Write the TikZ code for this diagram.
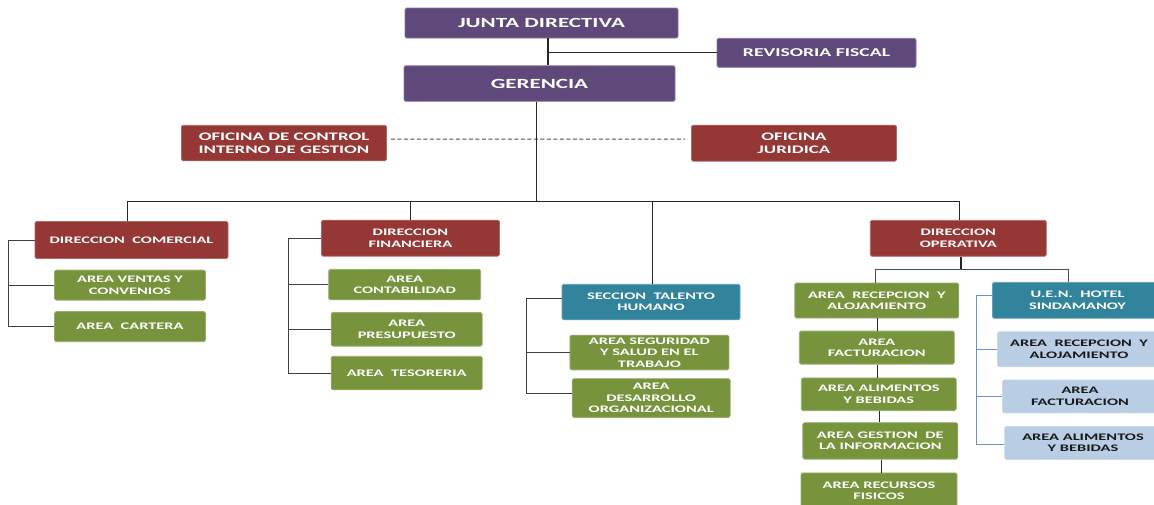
\documentclass[tikz,border=0pt]{standalone}
\usepackage{fontspec}
\setmainfont{Carlito}[FakeStretch=1.64]
\usepackage{tikz}
\usetikzlibrary{positioning, calc}

\definecolor{boardpurple}{HTML}{5F497A}
\definecolor{officered}{HTML}{953735}
\definecolor{areagreen}{HTML}{77933C}
\definecolor{sectionteal}{HTML}{31849B}
\definecolor{hotelblue}{HTML}{B9CDE5}
\definecolor{hotelline}{HTML}{6A93CF}

\begin{document}
\begin{tikzpicture}[
        x=1pt, y=-1pt,
        box/.style={rectangle, rounded corners=1.5pt, align=center, inner sep=1pt, text=white, line width=0.8pt, font=\bfseries\fontsize{10}{11.5}\selectfont},
        board/.style={box, fill=boardpurple, draw=boardpurple!75!white, font=\bfseries\fontsize{14}{16}\selectfont},
        office/.style={box, fill=officered, draw=officered!75!white},
        area/.style={box, fill=areagreen, draw=areagreen!75!white},
        section/.style={box, fill=sectionteal, draw=sectionteal!75!white},
        hotelarea/.style={box, fill=hotelblue, draw=hotelblue!75!white, text=black!90},
        link/.style={draw=black!85, line width=1.2pt},
        bracket/.style={draw=black!75, line width=1pt},
        hotellink/.style={draw=hotelline, line width=1pt}
      ]
      \useasboundingbox (0,0) rectangle (1154,504);
      \clip (0,0) rectangle (1154,504);

      % top of the chart
      \node[board, minimum width=273pt, minimum height=30pt] (junta) at (541.5,23) {JUNTA DIRECTIVA};
      \node[board, minimum width=271pt, minimum height=35.5pt, below=27pt of junta, xshift=-2pt] (gerencia) {GERENCIA};
      \node[board, minimum width=199pt, minimum height=29pt, font=\bfseries\fontsize{12}{14}\selectfont] (revisoria) at (816.5,52.8) {REVISORIA FISCAL};

      % staff offices
      \node[office, minimum width=205pt, minimum height=35.5pt, font=\bfseries\fontsize{11.5}{13}\selectfont] (controlint) at (284,143) {OFICINA DE CONTROL\\INTERNO DE GESTION};
      \node[office, minimum width=205pt, minimum height=36pt, font=\bfseries\fontsize{11.5}{13}\selectfont] (juridica) at (794,143.2) {OFICINA\\JURIDICA};

      % direcciones
      \node[office, minimum width=193pt, minimum height=37pt] (dcomercial) at (131.5,240) {DIRECCION\ \ COMERCIAL};
      \node[office, minimum width=178pt, minimum height=36pt] (dfinanciera) at (410.4,238.2) {DIRECCION\\FINANCIERA};
      \node[office, minimum width=176pt, minimum height=36pt] (doperativa) at (958.3,238.3) {DIRECCION\\OPERATIVA};
      \node[section, minimum width=178pt, minimum height=35.5pt] (talento) at (651,302) {SECCION\ \ TALENTO\\HUMANO};

      % comercial areas
      \node[area, minimum width=151pt, minimum height=30pt, below=10.8pt of dcomercial, xshift=-1.5pt] (ventas) {AREA VENTAS Y\\CONVENIOS};
      \node[area, minimum width=151pt, minimum height=30pt, below=10.7pt of ventas] (cartera) {AREA\ \ CARTERA};

      % financiera areas
      \node[area, minimum width=152pt, minimum height=30.5pt, below=12.3pt of dfinanciera, xshift=-5.7pt] (contab) {AREA\\CONTABILIDAD};
      \node[area, minimum width=151pt, minimum height=33.5pt, below=12pt of contab, xshift=2pt] (presup) {AREA\\PRESUPUESTO};
      \node[area, minimum width=151pt, minimum height=33.5pt, below=9.4pt of presup] (tesoreria) {AREA\ \ TESORERIA};

      % talento humano areas
      \node[area, minimum width=159pt, minimum height=34.7pt, below=14.6pt of talento, xshift=-1.6pt] (seguridad) {AREA SEGURIDAD\\Y SALUD EN EL\\TRABAJO};
      \node[area, minimum width=158pt, minimum height=38.7pt, below=8pt of seguridad, xshift=1.8pt] (desarrollo) {AREA\\DESARROLLO\\ORGANIZACIONAL};

      % operativa areas
      \node[area, minimum width=164pt, minimum height=35pt] (recepcion) at (876.8,300.5) {AREA\ \ RECEPCION\ \ Y\\ALOJAMIENTO};
      \node[area, minimum width=155pt, minimum height=33pt, below=12.3pt of recepcion] (facturacion) {AREA\\FACTURACION};
      \node[area, minimum width=155pt, minimum height=32.7pt, below=13pt of facturacion, xshift=2pt] (alimentos) {AREA ALIMENTOS\\Y BEBIDAS};
      \node[area, minimum width=155pt, minimum height=36.4pt, below=11.3pt of alimentos, xshift=1.5pt] (gestion) {AREA GESTION\ \ DE\\LA INFORMACION};
      \node[area, minimum width=156pt, minimum height=36pt, below=13pt of gestion, xshift=-1.3pt] (recursos) {AREA RECURSOS\\FISICOS};

      % hotel unit
      \node[section, minimum width=170pt, minimum height=36pt] (hotel) at (1077.5,300.3) {U.E.N.\ \ HOTEL\\SINDAMANOY};
      \node[hotelarea, minimum width=163pt, minimum height=35pt, below=12.7pt of hotel, xshift=1.5pt] (hrecepcion) {AREA\ \ RECEPCION\ \ Y\\ALOJAMIENTO};
      \node[hotelarea, minimum width=155pt, minimum height=33pt, below=12.3pt of hrecepcion, xshift=1pt] (hfacturacion) {AREA\\FACTURACION};
      \node[hotelarea, minimum width=156.6pt, minimum height=33pt, below=12.7pt of hfacturacion, xshift=3pt] (halimentos) {AREA ALIMENTOS\\Y BEBIDAS};

      % edges
      \draw[link, line width=2pt] ([xshift=6pt]junta.south) -- ([xshift=6pt]junta.south |- gerencia.north);
      \draw[link] ([xshift=6pt]junta.south |- revisoria.west) -- (revisoria.west);
      \draw[draw=black!70, line width=1pt, dash pattern=on 4pt off 2.5pt, shorten <=4pt, shorten >=6pt] ([yshift=4pt]controlint.east) -- ([yshift=4pt]juridica.west);

      \coordinate (bus) at (536.6,201.7);
      \draw[link] ([xshift=-3pt]gerencia.south) -- ([xshift=-3pt]gerencia.south |- bus);
      \draw[link] ([xshift=-4pt]dcomercial.north) -- ([xshift=-4pt]dcomercial.north |- bus) -- ([xshift=1.5pt]doperativa.north |- bus) -- ([xshift=1.5pt]doperativa.north);
      \draw[link] (dfinanciera.north) -- (dfinanciera.north |- bus);
      \draw[link] ([xshift=1.5pt]talento.north) -- ([xshift=1.5pt]talento.north |- bus);

      % left brackets
      \draw[bracket] (dcomercial.west) -- ++(-26,0) coordinate (comtop) |- (cartera.west);
      \draw[bracket] (comtop |- ventas.west) -- (ventas.west);
      \draw[bracket] (dfinanciera.west) -- ++(-33,0) coordinate (fintop) |- (tesoreria.west);
      \draw[bracket] (fintop |- contab.west) -- (contab.west);
      \draw[bracket] (fintop |- presup.west) -- (presup.west);
      \draw[bracket] ([yshift=4pt]talento.west) -- ++(-35,0) coordinate (taltop) |- ([yshift=5pt]desarrollo.west);
      \draw[bracket] (taltop |- seguridad.west) -- (seguridad.west);

      % operativa
      \coordinate (opbus) at (960.9,269.3);
      \draw[link] ([xshift=2.6pt]doperativa.south) -- ([xshift=2.6pt]doperativa.south |- opbus);
      \draw[bracket, draw=black!70] ([xshift=-1.7pt]recepcion.north) -- ([xshift=-1.7pt]recepcion.north |- opbus) -- ([xshift=-9pt]hotel.north |- opbus) -- ([xshift=-9pt]hotel.north);
      \foreach \a/\b in {recepcion/facturacion, facturacion/alimentos, alimentos/gestion, gestion/recursos}
        \draw[link] ([xshift=1pt]\a.south) -- ([xshift=1pt]\a.south |- \b.north);

      % hotel bracket
      \draw[hotellink] ([yshift=5pt]hotel.west) -- ++(-16,0) coordinate (hottop) |- ([yshift=-1.5pt]halimentos.west);
      \draw[hotellink] (hottop |- hrecepcion.west) -- (hrecepcion.west);
      \draw[hotellink] (hottop |- hfacturacion.west) -- (hfacturacion.west);

      \end{tikzpicture}
\end{document}
